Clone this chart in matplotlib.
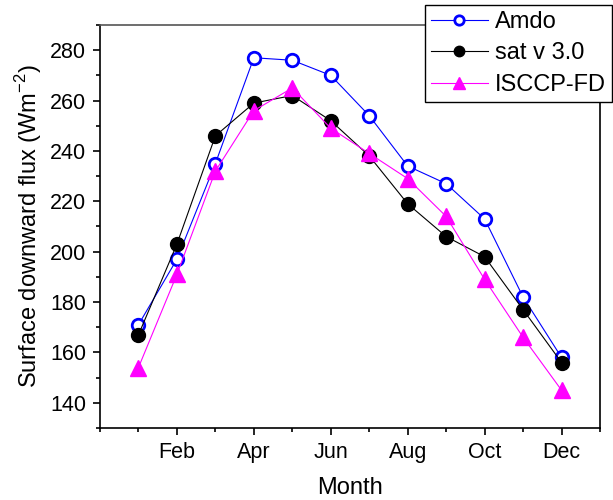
import matplotlib.pyplot as plt
from matplotlib.ticker import MultipleLocator

plt.rcParams['font.family'] = ['Liberation Sans', 'DejaVu Sans']
plt.rcParams['mathtext.fontset'] = 'custom'
plt.rcParams['mathtext.rm'] = 'Liberation Sans'

# monthly means, Jan..Dec
months = list(range(1, 13))
amdo = [171, 197, 235, 277, 276, 270, 254, 234, 227, 213, 182, 158]
sat_v3 = [167, 203, 246, 259, 262, 252, 238, 219, 206, 198, 177, 156]
isccp_fd = [154, 191, 232, 256, 265, 249, 239, 229, 214, 189, 166, 145]

tick_pos = [2, 4, 6, 8, 10, 12]
tick_labels = ['Feb', 'Apr', 'Jun', 'Aug', 'Oct', 'Dec']

fig = plt.figure(figsize=(6.13, 5.0), dpi=100)
ax = fig.add_axes([100 / 613, 1 - 428 / 500, 500 / 613, 403 / 500])

ax.plot(months, amdo, color='blue', lw=0.8, marker='o', ms=9, mfc='white',
        mec='blue', mew=2, label='Amdo')
ax.plot(months, sat_v3, color='black', lw=0.8, marker='o', ms=10, mfc='black',
        mec='black', label='sat v 3.0')
ax.plot(months, isccp_fd, color='magenta', lw=0.8, marker='^', ms=11,
        mfc='magenta', mec='magenta', label='ISCCP-FD')

ax.set_xlim(0, 13)
ax.set_ylim(130, 290)
ax.set_xticks(tick_pos)
ax.set_xticklabels(tick_labels)
ax.xaxis.set_minor_locator(MultipleLocator(1))
ax.yaxis.set_minor_locator(MultipleLocator(10))
ax.set_yticks(range(140, 281, 20))

ax.tick_params(which='both', direction='out', labelsize=15.5, width=1.2)
ax.tick_params(which='major', length=5, pad=5)
ax.tick_params(which='minor', length=3)
for s in ax.spines.values():
    s.set_linewidth(1.2)
ax.spines['top'].set_color('#555555')

ax.set_xlabel('Month', fontsize=17, labelpad=10)
ax.set_ylabel(r'Surface downward flux (Wm$^{\mathregular{-2}}$)', fontsize=17,
              labelpad=4)

leg = fig.legend(loc='upper left', bbox_to_anchor=(425 / 613, 1 - 5 / 500),
                 fontsize=17, frameon=True, fancybox=False, edgecolor='black',
                 framealpha=1, handlelength=2.4, markerscale=0.75,
                 borderpad=0.25, labelspacing=0.4, handletextpad=0.3,
                 borderaxespad=0)
leg.get_frame().set_linewidth(1.0)

fig.savefig('out.png', dpi=100)
